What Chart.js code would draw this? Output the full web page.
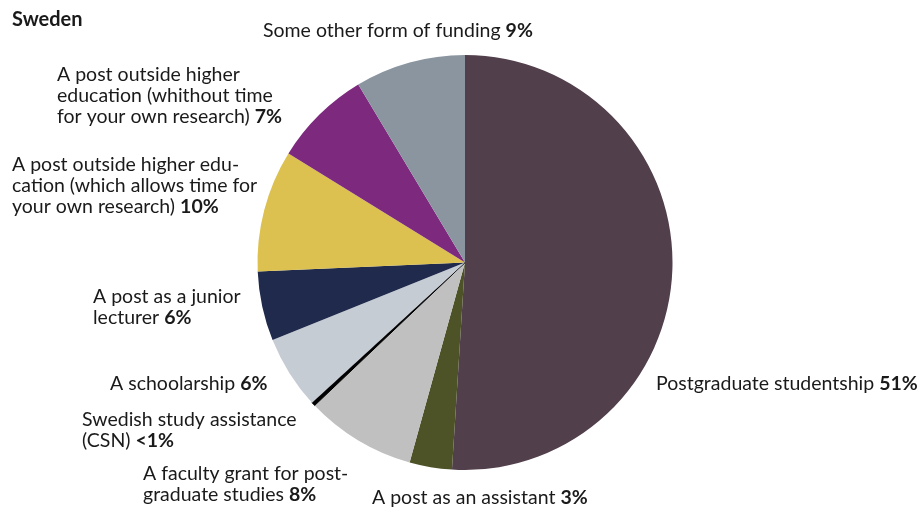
<!DOCTYPE html>
<html><head><meta charset="utf-8">
<script src="https://cdn.jsdelivr.net/npm/chart.js@4/dist/chart.umd.min.js"></script>
<style>html,body{margin:0;padding:0;background:#fff}#wrap{width:922px;height:510px;position:relative}</style>
</head><body><div id="wrap"><canvas id="c" width="922" height="510"></canvas></div>
<script>
const title = "Sweden";
const categories = [
  "Postgraduate studentship",
  "A post as an assistant",
  "A faculty grant for post-graduate studies",
  "Swedish study assistance (CSN)",
  "A schoolarship",
  "A post as a junior lecturer",
  "A post outside higher education (which allows time for your own research)",
  "A post outside higher education (whithout time for your own research)",
  "Some other form of funding"
];
const values = [51, 3.3, 8.6, 0.3, 5.7, 5.4, 9.5, 7.6, 8.6];
const pctLabels = ["51%", "3%", "8%", "<1%", "6%", "6%", "10%", "7%", "9%"];
const colors = ["#513f4b", "#4e5227", "#c0c0c0", "#000000", "#c6ccd4", "#1f2a4c", "#dcc050", "#7d2a7e", "#8a95a0"];

// label layout: text lines (last line gets bold pct), left x, first-line centre y
const labelLayout = [
  {lines: ["Postgraduate studentship"], x: 656, y: 384},
  {lines: ["A post as an assistant"], x: 372, y: 498},
  {lines: ["A faculty grant for post-", "graduate studies"], x: 143, y: 474},
  {lines: ["Swedish study assistance", "(CSN)"], x: 82, y: 420},
  {lines: ["A schoolarship"], x: 110, y: 384},
  {lines: ["A post as a junior", "lecturer"], x: 93, y: 297},
  {lines: ["A post outside higher edu-", "cation (which allows time for", "your own research)"], x: 12, y: 165},
  {lines: ["A post outside higher", "education (whithout time", "for your own research)"], x: 57, y: 75},
  {lines: ["Some other form of funding"], x: 263, y: 31}
];

const FONT = "Lato, 'Open Sans', sans-serif";
const labelPlugin = {
  id: 'labels',
  afterDraw(chart) {
    const ctx = chart.ctx;
    ctx.save();
    ctx.fillStyle = '#1a1a1a';
    ctx.textBaseline = 'middle';
    ctx.textAlign = 'left';
    ctx.font = "bold 20px " + FONT;
    ctx.fillText(title, 12, 20);
    labelLayout.forEach((L, i) => {
      L.lines.forEach((t, j) => {
        const y = L.y + j * 21;
        ctx.font = "19.5px " + FONT;
        ctx.fillText(t, L.x, y);
        if (j === L.lines.length - 1) {
          const w = ctx.measureText(t + " ").width;
          ctx.font = "bold 19.5px " + FONT;
          ctx.fillText(pctLabels[i], L.x + w, y);
        }
      });
    });
    ctx.restore();
  }
};

new Chart(document.getElementById('c'), {
  type: 'pie',
  data: {
    labels: categories,
    datasets: [{
      data: values,
      backgroundColor: colors,
      borderColor: colors.map(c => c === "#000000" ? "#000000" : "rgba(0,0,0,0)"),
      borderWidth: values.map((v, i) => colors[i] === "#000000" ? 1 : 0)
    }]
  },
  options: {
    responsive: false,
    animation: false,
    layout: {padding: {left: 257, right: 249, top: 54, bottom: 39}},
    plugins: {legend: {display: false}, tooltip: {enabled: false}}
  },
  plugins: [labelPlugin]
});
</script>
</body></html>
